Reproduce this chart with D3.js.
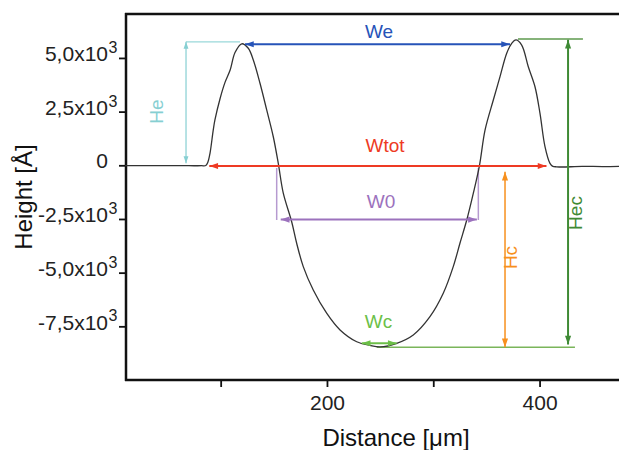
<!DOCTYPE html>
<html>
<head>
<meta charset="utf-8">
<script src="https://cdn.jsdelivr.net/npm/d3@7"></script>
<style>
  body { margin: 0; background: #fff; }
  text { font-family: "Liberation Sans", Arial, sans-serif; }
</style>
</head>
<body>
<div id="chart"></div>
<script>
var w = 619;
var h = 450;

// profile (distance in um, height in A)
var distance = [10, 40, 70, 82, 86, 88, 90, 93, 94.6, 99.4, 104, 109, 113.5, 119.8, 126, 130.7, 137, 143.3, 149.5, 154.2,
  158.9, 166.8, 171.5, 177.7, 187.1, 199.7, 212.3, 228, 240.5, 250, 265.6, 281.2, 296.9, 309.4, 318.8,
  325.1, 331.5, 337.7, 343.5, 348.7, 356.5, 362.8, 369.1, 373.8, 377.8, 383.2, 389.4, 395.7, 400.4,
  405.1, 409.8, 412.5, 416, 421, 440, 460, 480];
var height = [-20, -20, -20, -20, -10, 150, 570, 1640, 2110, 3100, 3850, 4450, 5250, 5660, 5450, 4900, 3820, 2580, 1330, 90,
  -1300, -2630, -3630, -4720, -5810, -6890, -7670, -8220, -8390, -8460, -8290, -7900, -7050, -5960, -4720,
  -3630, -2550, -1300, 0, 1640, 3040, 4130, 5220, 5680, 5840, 5600, 4590, 3660, 2420,
  870, 90, -50, -70, -80, -50, -60, -40];

var xTicks = [100, 200, 300, 400];
var xTickLabels = ["", "200", "", "400"];
var yTicks = [5000, 2500, 0, -2500, -5000, -7500];
var yTickLabels = ["5,0", "2,5", "0", "-2,5", "-5,0", "-7,5"];

// annotations: double arrows [x1, y1, x2, y2] in data units
var arrowNames = ["He", "We", "Wtot", "W0", "Wc", "Hc", "Hec"];
var arrowCoords = [
  [67.4, 100, 67.4, 5750],
  [122.9, 5636, 372.2, 5636],
  [89.3, -30, 406.5, -30],
  [156.5, -2530, 341, -2530],
  [232.7, -8290, 265.6, -8290],
  [367.5, -300, 367.5, -8480],
  [426.8, 5850, 426.8, -8350]
];
// helper lines without heads
var guideNames = ["He", "Hec", "Wc", "W0", "W0"];
var guideCoords = [
  [67.4, 5750, 118.2, 5750],
  [379.7, 5883, 440.8, 5883],
  [246.8, -8480, 433.3, -8480],
  [152.7, -126, 152.7, -2548],
  [342.4, -126, 342.4, -2548]
];
// label anchor points [x, y] in data units
var labelPos = [
  [45.7, 2496],
  [249, 5915],
  [254.6, 633],
  [250.8, -1989],
  [248.5, -7592],
  [378.8, -4294],
  [439.9, -2222]
];
var labelVertical = [true, false, false, false, false, true, true];

var colors = {
  He: "#86cfd2",
  We: "#2653b8",
  Wtot: "#ee3a24",
  W0: "#9c72bd",
  Wc: "#6cbf48",
  Hc: "#f7901e",
  Hec: "#3f8a35"
};
var guideColors = { He: "#9ad8da", Hec: "#5e9a4e", Wc: "#7ab55a", W0: "#b69ad0" };
var widths = { He: 1.2, We: 2, Wtot: 2, W0: 2, Wc: 2, Hc: 1.5, Hec: 2 };

var svg = d3
  .select("#chart")
  .append("svg")
  .attr("width", w)
  .attr("height", h);

svg.append("rect").attr("width", w).attr("height", h).attr("fill", "#fff");

// Define scales
var xScale = d3.scaleLinear().domain([10, 480]).range([125, 624.6]);
var yScale = d3.scaleLinear().domain([-10000, 7000]).range([380, 15]);

// Arrow heads
var defs = svg.append("defs");
arrowNames.forEach(function (n) {
  var s = n === "He" ? 0.8 : 1;
  defs
    .append("marker")
    .attr("id", "head-" + n)
    .attr("viewBox", "0 -4 10 8")
    .attr("refX", 10)
    .attr("refY", 0)
    .attr("markerUnits", "userSpaceOnUse")
    .attr("markerWidth", 10 * s)
    .attr("markerHeight", 7 * s)
    .attr("orient", "auto-start-reverse")
    .append("path")
    .attr("d", "M0,-3.5L10,0L0,3.5Z")
    .attr("fill", colors[n]);
});

// Axes
var yAxis = d3.axisLeft(yScale).tickValues(yTicks).tickSize(7).tickSizeOuter(0).tickFormat("");
svg.append("g").attr("transform", "translate(126,0)").call(yAxis)
  .call(function (g) {
    g.select(".domain").remove();
    g.selectAll("line").attr("stroke", "#111").attr("stroke-width", 1.8);
  });

var xAxis = d3
  .axisBottom(xScale)
  .tickValues(xTicks)
  .tickSize(7)
  .tickSizeOuter(0)
  .tickPadding(8)
  .tickFormat(function (d, i) {
    return xTickLabels[i];
  });
svg.append("g").attr("transform", "translate(0,380)").call(xAxis)
  .call(function (g) {
    g.select(".domain").remove();
    g.selectAll("line").attr("stroke", "#111").attr("stroke-width", 1.8);
    g.selectAll("text").attr("font-size", 21).attr("fill", "#222")
      .attr("font-family", '"Liberation Sans", Arial, sans-serif');
  });

// Frame
svg.append("line").attr("x1", 126).attr("x2", 126).attr("y1", 13).attr("y2", 381)
  .attr("stroke", "#111").attr("stroke-width", 2.5);
svg.append("line").attr("x1", 125).attr("x2", w).attr("y1", 380).attr("y2", 380)
  .attr("stroke", "#111").attr("stroke-width", 2.5);
svg.append("line").attr("x1", 125).attr("x2", w).attr("y1", 14).attr("y2", 14)
  .attr("stroke", "#111").attr("stroke-width", 2.5);

// Y tick labels with superscript exponent
yTicks.forEach(function (t, i) {
  var y = yScale(t);
  if (t === 0) {
    svg.append("text").attr("x", 108).attr("y", y + 3).attr("text-anchor", "end")
      .attr("font-size", 21).attr("fill", "#222").text("0");
  } else {
    svg.append("text").attr("x", 108).attr("y", y + 3.5).attr("text-anchor", "end")
      .attr("font-size", 21).attr("fill", "#222").text(yTickLabels[i] + "x10");
    svg.append("text").attr("x", 108.5).attr("y", y - 5)
      .attr("font-size", 16).attr("fill", "#222").text("3");
  }
});

// Axis titles
svg.append("text")
  .attr("transform", "translate(32,197) rotate(-90)")
  .attr("text-anchor", "middle")
  .attr("font-size", 24)
  .attr("fill", "#111")
  .text("Height [Å]");
svg.append("text")
  .attr("x", 396)
  .attr("y", 446)
  .attr("text-anchor", "middle")
  .attr("font-size", 24)
  .attr("fill", "#111")
  .text("Distance [μm]");

// Guides
svg.selectAll(".guide")
  .data(guideCoords)
  .enter()
  .append("line")
  .attr("class", "guide")
  .attr("x1", function (d) { return xScale(d[0]); })
  .attr("y1", function (d) { return yScale(d[1]); })
  .attr("x2", function (d) { return xScale(d[2]); })
  .attr("y2", function (d) { return yScale(d[3]); })
  .attr("stroke", function (d, i) { return guideColors[guideNames[i]]; })
  .attr("stroke-width", function (d, i) { return guideNames[i] === "He" ? 1.2 : 1.5; });

// Profile
var line = d3
  .line()
  .x(function (d, i) { return xScale(distance[i]); })
  .y(function (d) { return yScale(d); })
  .curve(d3.curveCatmullRom.alpha(0.5));

svg.append("path")
  .datum(height)
  .attr("d", line)
  .attr("fill", "none")
  .attr("stroke", "#333")
  .attr("stroke-width", 1.3);

// Arrows
svg.selectAll(".arrow")
  .data(arrowCoords)
  .enter()
  .append("line")
  .attr("class", "arrow")
  .attr("x1", function (d) { return xScale(d[0]); })
  .attr("y1", function (d) { return yScale(d[1]); })
  .attr("x2", function (d) { return xScale(d[2]); })
  .attr("y2", function (d) { return yScale(d[3]); })
  .attr("stroke", function (d, i) { return colors[arrowNames[i]]; })
  .attr("stroke-width", function (d, i) { return widths[arrowNames[i]]; })
  .attr("marker-start", function (d, i) { return "url(#head-" + arrowNames[i] + ")"; })
  .attr("marker-end", function (d, i) { return "url(#head-" + arrowNames[i] + ")"; });

// Labels
svg.selectAll(".lab")
  .data(labelPos)
  .enter()
  .append("text")
  .attr("class", "lab")
  .attr("transform", function (d, i) {
    var t = "translate(" + xScale(d[0]) + "," + yScale(d[1]) + ")";
    return labelVertical[i] ? t + " rotate(-90)" : t;
  })
  .attr("text-anchor", "middle")
  .attr("font-size", 19)
  .attr("fill", function (d, i) { return colors[arrowNames[i]]; })
  .text(function (d, i) { return arrowNames[i]; });
</script>
</body>
</html>
